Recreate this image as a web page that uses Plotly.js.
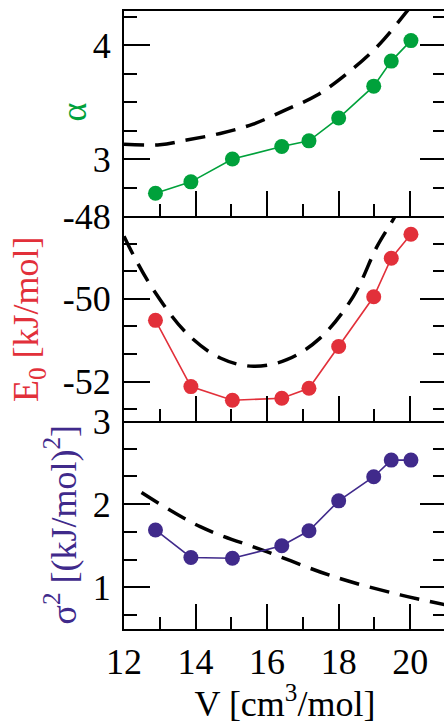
<!DOCTYPE html>
<html>
<head>
<meta charset="utf-8">
<script src="https://cdn.plot.ly/plotly-3.0.1.min.js"></script>
<style>
html,body{margin:0;padding:0;overflow:hidden;background:#fff;}
#chart{width:446px;height:724px;}
</style>
</head>
<body>
<div id="chart"></div>
<script>
// ---- data ----
const volume = [12.88, 13.87, 15.03, 16.41, 17.17, 18.0, 18.98, 19.47, 20.02];
const alphaVals = [2.70, 2.80, 3.00, 3.11, 3.16, 3.36, 3.64, 3.86, 4.04];
const e0Vals = [-50.52, -52.12, -52.45, -52.40, -52.16, -51.15, -49.95, -49.02, -48.44];
const sigma2Vals = [1.69, 1.36, 1.35, 1.50, 1.68, 2.04, 2.33, 2.53, 2.53];

const alphaFitV = [12.0, 13.0, 13.75, 14.69, 15.61, 16.55, 17.39, 18.23, 19.07, 19.91, 20.2];
const alphaFit = [3.13, 3.125, 3.167, 3.225, 3.307, 3.436, 3.56, 3.75, 3.985, 4.298, 4.42];
const e0FitV = [12.0, 12.26, 12.82, 13.75, 14.69, 15.62, 16.55, 17.48, 18.41, 19.07, 19.58, 19.8];
const e0Fit = [-48.49, -48.94, -49.78, -50.83, -51.43, -51.63, -51.47, -50.95, -49.94, -48.74, -48.0, -47.6];
const sigmaFitV = [12.49, 14.13, 15.99, 17.86, 19.72, 21.0];
const sigmaFit = [2.14, 1.73, 1.43, 1.13, 0.91, 0.79];

const xTickVals = [12, 14, 16, 18, 20];
const xTickText = ['12', '14', '16', '18', '20'];
const alphaTickVals = [3, 4];
const alphaTickText = ['3', '4'];
const e0TickVals = [-52, -50, -48];
const e0TickText = ['-52', '-50', '-48'];
const sigmaTickVals = [1, 2, 3];
const sigmaTickText = ['1', '2', '3'];

const yTitles = ['α', 'E<sub>0</sub> [kJ/mol]', 'σ<sup>2</sup> [(kJ/mol)<sup>2</sup>]'];
const xTitle = 'V [cm<sup>3</sup>/mol]';

const green = '#00a13b', red = '#e2303a', purple = '#402a8b';
const FONT = 'Liberation Serif';

function dataTrace(y, color, xa, ya) {
  return {x: volume, y: y, xaxis: xa, yaxis: ya, type: 'scatter', mode: 'lines+markers',
    line: {color: color, width: 1.6}, marker: {color: color, size: 15}, cliponaxis: false, showlegend: false};
}
function fitTrace(x, y, xa, ya) {
  return {x: x, y: y, xaxis: xa, yaxis: ya, type: 'scatter', mode: 'lines',
    line: {color: '#000', width: 3.5, dash: '20px,11px', shape: 'spline'}, showlegend: false};
}

const traces = [
  fitTrace(alphaFitV, alphaFit, 'x', 'y'),
  dataTrace(alphaVals, green, 'x', 'y'),
  fitTrace(e0FitV, e0Fit, 'x2', 'y2'),
  dataTrace(e0Vals, red, 'x2', 'y2'),
  fitTrace(sigmaFitV, sigmaFit, 'x3', 'y3'),
  dataTrace(sigma2Vals, purple, 'x3', 'y3')
];

function xAxis(anchor, showLabels, mirror) {
  return {anchor: anchor, range: [12, 21], showgrid: false, zeroline: false,
    showline: true, linecolor: '#000', linewidth: 2, mirror: mirror,
    ticks: 'inside', ticklen: 25, tickwidth: 2, tickcolor: '#000',
    tickvals: xTickVals, ticktext: xTickText, showticklabels: showLabels,
    minor: {ticks: 'inside', ticklen: 12, tickwidth: 2, tickcolor: '#000', dtick: 1, tick0: 0, showgrid: false},
    tickfont: {family: FONT, size: 36, color: '#000'}};
}
function yAxis(anchor, domain, range, tv, tt, minorD) {
  return {anchor: anchor, domain: domain, range: range, showgrid: false, zeroline: false,
    showline: true, linecolor: '#000', linewidth: 2, mirror: 'ticks',
    ticks: 'inside', ticklen: 26, tickwidth: 2, tickcolor: '#000',
    tickvals: tv, ticktext: tt, ticklabelstandoff: 4,
    minor: {ticks: 'inside', ticklen: 13, tickwidth: 2, tickcolor: '#000', dtick: minorD, tick0: 0, showgrid: false},
    tickfont: {family: FONT, size: 36, color: '#000'}};
}

const xa1 = xAxis('y', false, true);
const xa2 = xAxis('y2', false, false);
const xa3 = xAxis('y3', true, false);
xa3.title = {text: xTitle, font: {family: FONT, size: 36, color: '#000'}, standoff: 12};

function yTitle(text, color, xp, yp) {
  return {text: text, xref: 'paper', yref: 'paper', x: xp, y: yp, xanchor: 'center', yanchor: 'middle',
    textangle: -90, showarrow: false, font: {family: FONT, size: 36, color: color}};
}

const layout = {
  width: 446, height: 724,
  margin: {l: 124, r: 0, t: 11, b: 95},
  paper_bgcolor: '#fff', plot_bgcolor: '#fff',
  font: {family: FONT},
  xaxis: xa1, xaxis2: xa2, xaxis3: xa3,
  yaxis: yAxis('x', [0.6683, 1], [2.5, 4.3], alphaTickVals, alphaTickText, 0.25),
  yaxis2: yAxis('x2', [0.3366, 0.6683], [-52.95, -48], e0TickVals, e0TickText, 2/3),
  yaxis3: yAxis('x3', [0, 0.3366], [0.5, 3], sigmaTickVals, sigmaTickText, 1/3),
  annotations: [
    yTitle(yTitles[0], green, -0.1568, 0.8366),
    yTitle(yTitles[1], red, -0.298, 0.5016),
    yTitle(yTitles[2], purple, -0.1957, 0.1691)
  ]
};

Plotly.newPlot('chart', traces, layout, {staticPlot: true, displayModeBar: false});
</script>
</body>
</html>
